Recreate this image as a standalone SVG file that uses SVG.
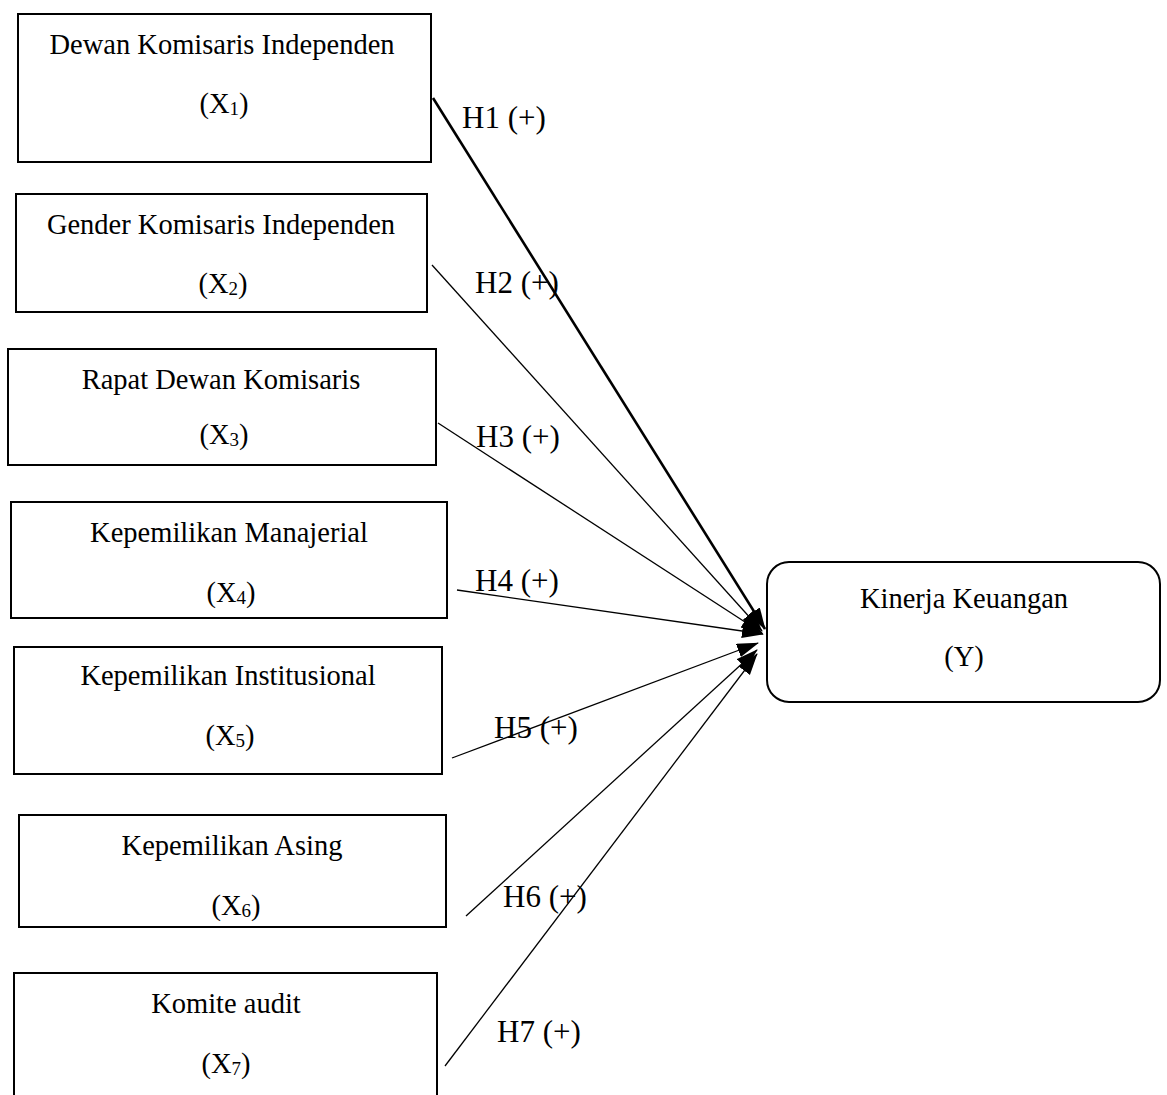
<svg xmlns="http://www.w3.org/2000/svg" width="1167" height="1095" viewBox="0 0 1167 1095">
<style>
  .box { fill: #fff; stroke: #000; stroke-width: 2; }
  .t { font-family: "Liberation Serif", "Times New Roman", serif; font-size: 28.5px; fill: #000; text-anchor: middle; }
  .lbl { font-family: "Liberation Serif", "Times New Roman", serif; font-size: 31px; fill: #000; }
  .sub { font-size: 19px; }
  .ln { stroke: #000; stroke-width: 1.3; fill: none; marker-end: url(#ah); }
  .thick { stroke-width: 2.6; }
</style>
<defs>
  <marker id="ah" markerUnits="userSpaceOnUse" markerWidth="22" markerHeight="16" refX="21" refY="7" orient="auto">
    <path d="M0,0 L22,7 L0,14 z" fill="#000"/>
  </marker>
</defs>
<rect width="1167" height="1095" fill="#fff"/>
<g id="x1">
  <rect class="box" x="18" y="14" width="413" height="148"/>
  <text class="t" x="222" y="54">Dewan Komisaris Independen</text>
  <text class="t" x="224" y="113">(X<tspan class="sub" dy="2">1</tspan><tspan dy="-2">)</tspan></text>
</g>
<g id="x2">
  <rect class="box" x="16" y="194" width="411" height="118"/>
  <text class="t" x="221" y="234">Gender Komisaris Independen</text>
  <text class="t" x="223" y="293">(X<tspan class="sub" dy="2">2</tspan><tspan dy="-2">)</tspan></text>
</g>
<g id="x3">
  <rect class="box" x="8" y="349" width="428" height="116"/>
  <text class="t" x="221" y="389">Rapat Dewan Komisaris</text>
  <text class="t" x="224" y="444">(X<tspan class="sub" dy="2">3</tspan><tspan dy="-2">)</tspan></text>
</g>
<g id="x4">
  <rect class="box" x="11" y="502" width="436" height="116"/>
  <text class="t" x="229" y="542">Kepemilikan Manajerial</text>
  <text class="t" x="231" y="602">(X<tspan class="sub" dy="2">4</tspan><tspan dy="-2">)</tspan></text>
</g>
<g id="x5">
  <rect class="box" x="14" y="647" width="428" height="127"/>
  <text class="t" x="228" y="685">Kepemilikan Institusional</text>
  <text class="t" x="230" y="745">(X<tspan class="sub" dy="2">5</tspan><tspan dy="-2">)</tspan></text>
</g>
<g id="x6">
  <rect class="box" x="19" y="815" width="427" height="112"/>
  <text class="t" x="232" y="855">Kepemilikan Asing</text>
  <text class="t" x="236" y="915">(X<tspan class="sub" dy="2">6</tspan><tspan dy="-2">)</tspan></text>
</g>
<g id="x7">
  <rect class="box" x="14" y="973" width="423" height="140"/>
  <text class="t" x="226" y="1013">Komite audit</text>
  <text class="t" x="226" y="1073">(X<tspan class="sub" dy="2">7</tspan><tspan dy="-2">)</tspan></text>
</g>
<g id="y">
  <rect class="box" x="767" y="562" width="393" height="140" rx="22" ry="22"/>
  <text class="t" x="964" y="608">Kinerja Keuangan</text>
  <text class="t" x="964" y="666">(Y)</text>
</g>
<g id="connectors">
  <line class="ln thick" x1="433" y1="98" x2="765" y2="629"/>
  <line class="ln" x1="432" y1="265" x2="762" y2="631"/>
  <line class="ln" x1="438" y1="423" x2="762" y2="633"/>
  <line class="ln" x1="457" y1="590" x2="763" y2="634"/>
  <line class="ln" x1="452" y1="758" x2="758" y2="643"/>
  <line class="ln" x1="466" y1="916" x2="757" y2="650"/>
  <line class="ln" x1="445" y1="1066" x2="757" y2="654"/>
</g>
<g id="labels">
  <text class="lbl" x="462" y="128">H1 (+)</text>
  <text class="lbl" x="475" y="293">H2 (+)</text>
  <text class="lbl" x="476" y="447">H3 (+)</text>
  <text class="lbl" x="475" y="591">H4 (+)</text>
  <text class="lbl" x="494" y="738">H5 (+)</text>
  <text class="lbl" x="503" y="907">H6 (+)</text>
  <text class="lbl" x="497" y="1042">H7 (+)</text>
</g>
</svg>
